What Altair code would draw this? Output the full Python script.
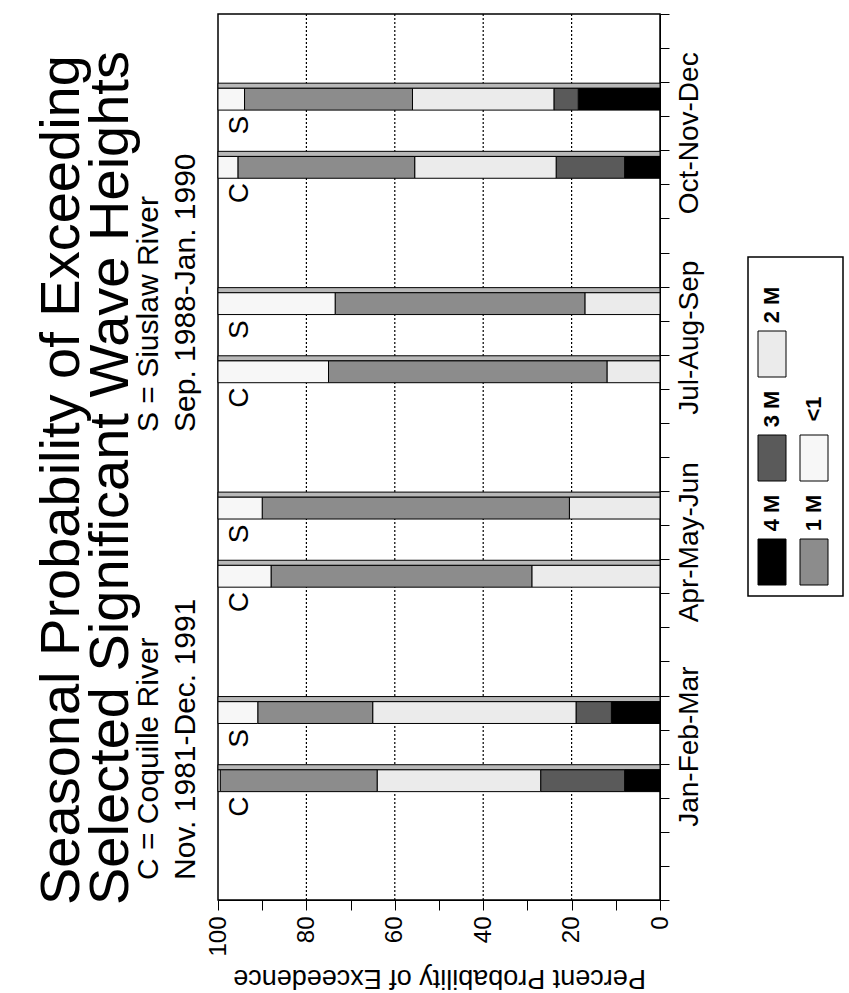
import altair as alt
import pandas as pd

# ---------------- data ----------------
SEASONS = ["Jan-Feb-Mar", "Apr-May-Jun", "Jul-Aug-Sep", "Oct-Nov-Dec"]
STATIONS = ["C", "S"]
CLASSES = ["4 M", "3 M", "2 M", "1 M", "<1"]
# cumulative percent probability of exceedence
# order: Jan C, Jan S, Apr C, Apr S, Jul C, Jul S, Oct C, Oct S
EXCEED_4M = [8, 11, 0, 0, 0, 0, 8, 18.5]
EXCEED_3M = [27, 19, 0, 0, 0, 0, 23.5, 24]
EXCEED_2M = [64, 65, 29, 20.5, 12, 17, 55.5, 56]
EXCEED_1M = [99.5, 91, 88, 90, 75, 73.5, 95.5, 94]
EXCEED_ALL = [100, 100, 100, 100, 100, 100, 100, 100]
X_TICKS = [0, 10, 20, 30, 40, 50, 60, 70, 80, 90, 100]
GRID_VALUES = [20, 40, 60, 80]
Y_TICKS = list(range(0, 27))
TITLE_1 = "Seasonal Probability of Exceeding"
TITLE_2 = "Selected Significant Wave Heights"
SUB_C = ["C = Coquille River", "Nov. 1981-Dec. 1991"]
SUB_S = ["S = Siuslaw River", "Sep. 1988-Jan. 1990"]
X_TITLE = "Percent Probability of Exceedence"

COLORS = ["#000000", "#5a5a5a", "#ebebeb", "#8c8c8c", "#f7f7f7"]
FONT = "Liberation Sans"

series = [EXCEED_4M, EXCEED_3M, EXCEED_2M, EXCEED_1M, EXCEED_ALL]
rows, bars = [], []
k = 0
for si, season in enumerate(SEASONS):
    for sj, st in enumerate(STATIONS):
        slot = 3.5 + 6 * si + 2 * sj
        bars.append(dict(season=season, station=st, slot=slot, lo=0, hi=100))
        lo = 0
        for ci, cls in enumerate(CLASSES):
            hi = series[ci][k]
            if hi > lo:
                rows.append(dict(season=season, station=st, slot=slot, cls=cls, lo=lo, hi=hi))
            lo = max(lo, hi)
        k += 1
seg_df = pd.DataFrame(rows)
bar_df = pd.DataFrame(bars)
season_df = pd.DataFrame({"season": SEASONS, "slot": [4.5 + 6 * i for i in range(len(SEASONS))]})
grid_df = pd.DataFrame({"v": GRID_VALUES})

leg_rows = []
for i, cls in enumerate(CLASSES):
    col = 0 if i < 3 else 1
    row = i if i < 3 else i - 3
    x0 = 540 + 42 * col
    yb = 571 - 104 * row
    leg_rows.append(dict(cls=cls, lx=x0, lx2=x0 + 28, ly=yb - 46, ly2=yb, tx=x0 + 14, ty=yb - 46 - 26))
leg_df = pd.DataFrame(leg_rows)

# ---------------- scales / axes ----------------
xscale = alt.Scale(domain=[0, 100], reverse=True, nice=False, zero=False)
yscale = alt.Scale(domain=[0, 26], nice=False, zero=False)
X_AXIS = alt.Axis(values=X_TICKS, labelExpr="datum.value % 20 == 0 ? datum.label : ''",
                  labelAngle=270, labelFontSize=24, labelFont=FONT, labelColor="black",
                  tickSize=10, tickColor="black", domainColor="black", grid=False,
                  labelPadding=6, title=X_TITLE, titleAngle=180, titleFontSize=27,
                  titleFont=FONT, titleFontWeight="normal", titleColor="black", titlePadding=34)
Y_AXIS = alt.Axis(orient="right", values=Y_TICKS, labels=False, tickSize=9, tickColor="black",
                  domainColor="black", grid=False, title=None)
cscale = alt.Scale(domain=CLASSES, range=COLORS)

base_seg = alt.Chart(seg_df).transform_calculate(y0="datum.slot - 0.32", y1="datum.slot + 0.32")
segs = base_seg.mark_bar(stroke="black", strokeWidth=1).encode(
    x=alt.X("lo:Q", scale=xscale, axis=X_AXIS), x2="hi:Q",
    y=alt.Y("y0:Q", scale=yscale, axis=Y_AXIS), y2="y1:Q",
    color=alt.Color("cls:N", scale=cscale, legend=None),
)

strip = alt.Chart(bar_df).transform_calculate(y0="datum.slot + 0.32", y1="datum.slot + 0.47").mark_bar(
    fill="#b8b8b8", stroke="black", strokeWidth=1).encode(
    x=alt.X("lo:Q", scale=xscale, axis=X_AXIS), x2="hi:Q",
    y=alt.Y("y0:Q", scale=yscale, axis=Y_AXIS), y2="y1:Q",
)

grid = alt.Chart(grid_df).mark_rule(color="black", strokeDash=[2, 2], strokeWidth=1.2).encode(
    x=alt.X("v:Q", scale=xscale, axis=X_AXIS),
)

letters = alt.Chart(bar_df).transform_calculate(ly="datum.slot - 0.76", lx="95").mark_text(
    angle=270, align="center", baseline="middle", fontSize=28, font=FONT, color="black").encode(
    x=alt.X("lx:Q", scale=xscale, axis=X_AXIS),
    y=alt.Y("ly:Q", scale=yscale, axis=Y_AXIS),
    text="station:N",
)

season_labels = alt.Chart(season_df).mark_text(
    angle=270, align="center", baseline="middle", fontSize=28, font=FONT, color="black").encode(
    x=alt.value(472),
    y=alt.Y("slot:Q", scale=yscale, axis=Y_AXIS),
    text="season:N",
)

def free_text(txt, x, y, size):
    return alt.Chart(pd.DataFrame({"t": [txt]})).mark_text(
        angle=270, align="left", baseline="alphabetic", fontSize=size, font=FONT, color="black"
    ).encode(x=alt.value(x), y=alt.value(y), text="t:N")

titles = [
    free_text(TITLE_1, -139, 891, 56),
    free_text(TITLE_2, -90, 891, 56),
    free_text(SUB_C[0], -60, 866, 30),
    free_text(SUB_C[1], -23, 866, 30),
    free_text(SUB_S[0], -60, 418, 30),
    free_text(SUB_S[1], -23, 418, 30),
]

main = alt.layer(grid, strip, segs, letters, season_labels, *titles)

leg_box = alt.Chart(pd.DataFrame({"b": [0]})).mark_rect(fill="white", stroke="black", strokeWidth=1.5).encode(
    x=alt.value(530), x2=alt.value(625), y=alt.value(243), y2=alt.value(582))
leg_sq = alt.Chart(leg_df).mark_rect(stroke="black", strokeWidth=1).encode(
    x=alt.X("lx:Q", scale=None, axis=None), x2="lx2:Q",
    y=alt.Y("ly:Q", scale=None, axis=None), y2="ly2:Q",
    color=alt.Color("cls:N", scale=cscale, legend=None),
)
leg_txt = alt.Chart(leg_df).mark_text(angle=270, align="center", baseline="middle", fontSize=22,
                                      fontWeight="bold", font=FONT, color="black").encode(
    x=alt.X("tx:Q", scale=None, axis=None),
    y=alt.Y("ty:Q", scale=None, axis=None),
    text="cls:N",
)
legend = alt.layer(leg_box, leg_sq, leg_txt)

chart = alt.layer(main, legend).resolve_scale(x="independent", y="independent").properties(
    width=442, height=886,
    padding={"left": 218, "top": 14, "right": 189, "bottom": 93},
    autosize=alt.AutoSizeParams(type="none"),
    background="white",
).configure_view(stroke="black", strokeWidth=1.5).configure_text(font=FONT)

chart.save("out.html", embed_options={"renderer": "svg", "actions": False})
